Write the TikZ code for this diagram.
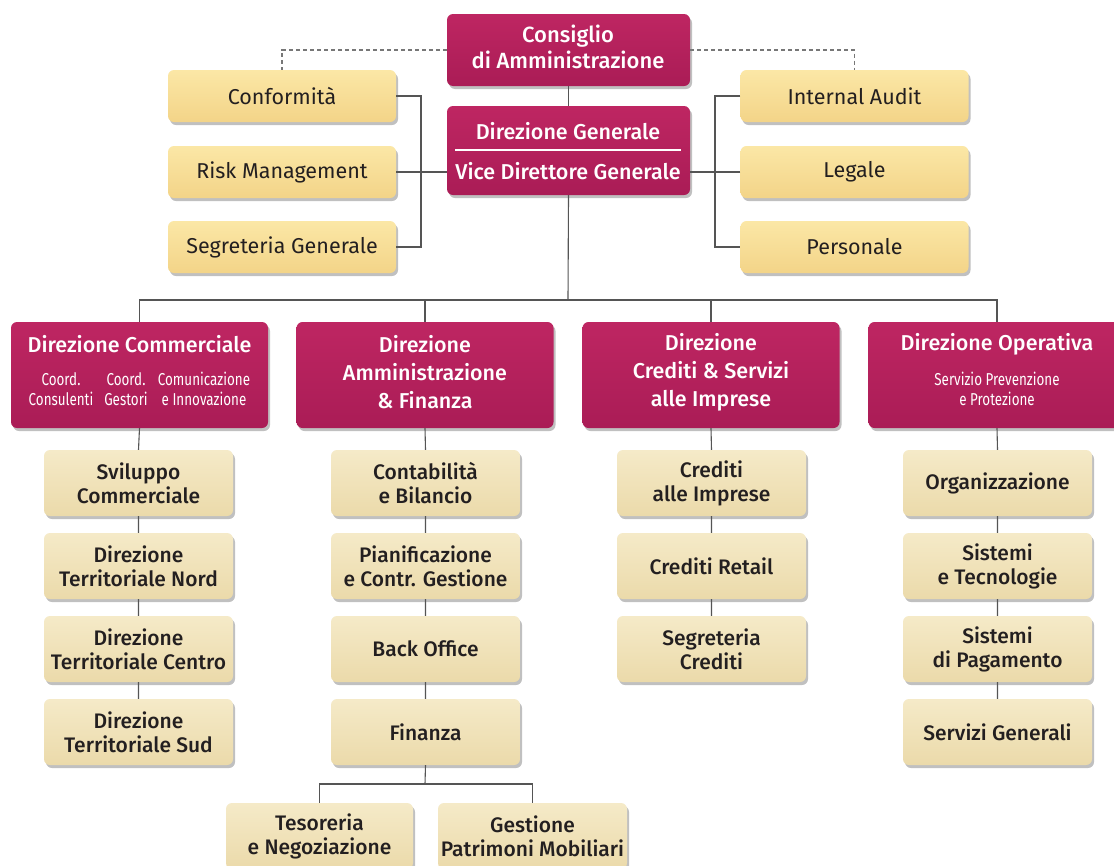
\documentclass[tikz,border=0pt]{standalone}
\usepackage{fontspec}
\setmainfont{Fira Sans}
\newfontfamily\medfont{Fira Sans Medium}
\newfontfamily\condfont{Fira Sans}[FakeStretch=0.78]
\usetikzlibrary{shadows}

\definecolor{magtop}{RGB}{190,38,98}
\definecolor{magbot}{RGB}{170,28,86}
\definecolor{yeltop}{RGB}{251,231,166}
\definecolor{yelbot}{RGB}{243,212,136}
\definecolor{beitop}{RGB}{245,234,200}
\definecolor{beibot}{RGB}{235,218,170}
\definecolor{ink}{RGB}{35,31,32}
\definecolor{wire}{RGB}{85,85,85}

\tikzset{
  boxbase/.style={rounded corners=6pt, inner sep=0pt,
    drop shadow={shadow xshift=2pt, shadow yshift=-3pt, opacity=0.35, fill=black!70}},
  magbox/.style={boxbase, top color=magtop, bottom color=magbot,
    minimum width=257pt, minimum height=106pt},
  whitetext/.style={text=white, font=\medfont\fontsize{21.5}{28}\selectfont, align=center, inner sep=0pt},
  topbox/.style={boxbase, top color=yeltop, bottom color=yelbot,
    minimum width=228pt, minimum height=52pt, text=ink,
    font=\fontsize{21.5}{24}\selectfont},
  subbox/.style={boxbase, top color=beitop, bottom color=beibot,
    minimum width=189pt, minimum height=66pt, text=ink,
    font=\medfont\fontsize{21}{24}\selectfont, align=center},
  wiring/.style={draw=wire, line width=1.1pt},
  dotted wire/.style={draw=wire!80, line width=1.1pt, dash pattern=on 4pt off 3pt},
  subtext/.style={text=white, font=\condfont\fontsize{17.2}{20}\selectfont, align=center, inner sep=0pt},
}

\begin{document}
\begin{tikzpicture}[x=1pt, y=-1pt]
\useasboundingbox (0,0) rectangle (1114,865);
\fill[white] (0,0) rectangle (1114,865);

% governing bodies
\node[magbox, minimum width=243pt, minimum height=72pt] (cda) at (568.5,50) {};
\node[whitetext, font=\medfont\fontsize{22}{26}\selectfont] (cdat) at (568,47) {Consiglio\\di Amministrazione};
\node[magbox, minimum width=243pt, minimum height=89pt] (dg) at (568.5,150.5) {};
\node[whitetext] (dgt) at (568,131) {Direzione Generale};
\node[whitetext] (vdg) at (568,171) {Vice Direttore Generale};
\draw[white, line width=2pt] (455,150) -- (681,150);

% staff functions
\node[topbox] (conf) at (282,96) {Conformità};
\node[topbox] (risk) at (282,172) {Risk Management};
\node[topbox] (segr) at (282,247) {Segreteria Generale};
\node[topbox] (audit) at (854.5,96) {Internal Audit};
\node[topbox] (legale) at (854.5,172) {Legale};
\node[topbox] (pers) at (854.5,247) {Personale};

% divisions
\node[magbox] (dc) at (139.5,375) {};
\node[whitetext] (dct) at (139.5,344) {Direzione Commerciale};
\node[subtext] (cc) at (61,389) {Coord.\\Consulenti};
\node[subtext] (cg) at (126,389) {Coord.\\Gestori};
\node[subtext] (ci) at (204,389) {Comunicazione\\e Innovazione};

\node[magbox] (daf) at (425,375) {};
\node[whitetext] (daft) at (425,372) {Direzione\\Amministrazione\\\& Finanza};
\node[magbox] (dcs) at (711,375) {};
\node[whitetext] (dcst) at (711,372) {Direzione\\Crediti \& Servizi\\alle Imprese};

\node[magbox] (dop) at (997,375) {};
\node[whitetext] (dopt) at (997,344) {Direzione Operativa};
\node[subtext] (spp) at (997,389) {Servizio Prevenzione\\e Protezione};

% units
\node[subbox] (a1) at (138.5,483) {Sviluppo\\Commerciale};
\node[subbox] (a2) at (138.5,566) {Direzione\\Territoriale Nord};
\node[subbox] (a3) at (138.5,649) {Direzione\\Territoriale Centro};
\node[subbox] (a4) at (138.5,732) {Direzione\\Territoriale Sud};

\node[subbox] (b1) at (425.5,483) {Contabilità\\e Bilancio};
\node[subbox] (b2) at (425.5,566) {Pianificazione\\e Contr. Gestione};
\node[subbox] (b3) at (425.5,649) {Back Office};
\node[subbox] (b4) at (425.5,732) {Finanza};

\node[subbox] (c1) at (711.5,483) {Crediti\\alle Imprese};
\node[subbox] (c2) at (711.5,566) {Crediti Retail};
\node[subbox] (c3) at (711.5,649) {Segreteria\\Crediti};

\node[subbox] (d1) at (997.5,483) {Organizzazione};
\node[subbox] (d2) at (997.5,566) {Sistemi\\e Tecnologie};
\node[subbox] (d3) at (997.5,649) {Sistemi\\di Pagamento};
\node[subbox] (d4) at (997.5,732) {Servizi Generali};

\node[subbox, minimum width=187pt] (tes) at (319.5,836) {Tesoreria\\e Negoziazione};
\node[subbox] (gest) at (532.5,836) {Gestione\\Patrimoni Mobiliari};

% connectors
\coordinate (lb) at (421,172);
\coordinate (rb) at (715,172);
\coordinate (bus) at (568,300);
\coordinate (fb) at (425,784);

\path[dotted wire] (cda.west) -| (conf.north);
\path[dotted wire] (cda.east) -| (audit.north);
\path[wiring] (cda.south) -- (dg.north);

\path[wiring] (conf.east) -| (lb) |- (segr.east);
\path[wiring] (risk.east) -- (risk.east -| dg.west);
\path[wiring] (audit.west) -| (rb) |- (pers.west);
\path[wiring] (legale.west) -- (legale.west -| dg.east);

\path[wiring] (dg.south) -- (bus);
\path[wiring] (dc.north) |- (bus) -| (dop.north);
\path[wiring] (daf.north) -- (daf.north |- bus);
\path[wiring] (dcs.north) -- (dcs.north |- bus);

\path[wiring] (dc.south) -- (a1.north) (a1.south) -- (a2.north) (a2.south) -- (a3.north) (a3.south) -- (a4.north);
\path[wiring] (daf.south) -- (b1.north) (b1.south) -- (b2.north) (b2.south) -- (b3.north) (b3.south) -- (b4.north);
\path[wiring] (dcs.south) -- (c1.north) (c1.south) -- (c2.north) (c2.south) -- (c3.north);
\path[wiring] (dop.south) -- (d1.north) (d1.south) -- (d2.north) (d2.south) -- (d3.north) (d3.south) -- (d4.north);

\path[wiring] (b4.south) -- (fb);
\path[wiring] (tes.north) |- (fb) -| (gest.north);
\end{tikzpicture}
\end{document}
